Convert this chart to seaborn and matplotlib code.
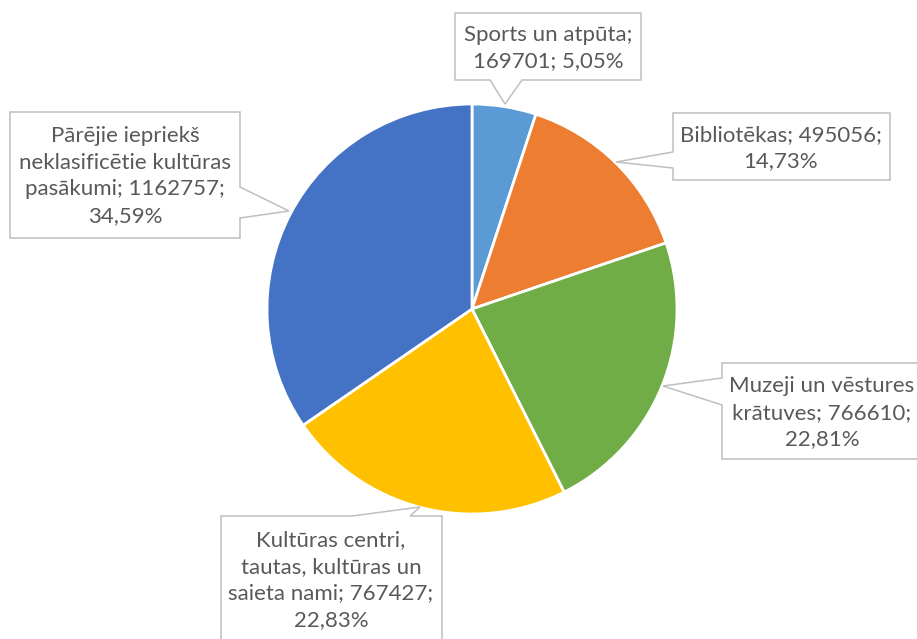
import textwrap
import matplotlib
matplotlib.use("Agg")
import matplotlib.pyplot as plt
import seaborn as sns
from matplotlib.patches import Polygon

# datos del gráfico
categories = [
    "Sports un atpūta",
    "Bibliotēkas",
    "Muzeji un vēstures krātuves",
    "Kultūras centri, tautas, kultūras un saieta nami",
    "Pārējie iepriekš neklasificētie kultūras pasākumi",
]
values = [169701, 495056, 766610, 767427, 1162757]
colors = ["#5B9BD5", "#ED7D31", "#70AD47", "#FFC000", "#4472C4"]

W, H = 917, 639

# callouts: (box x0, y0, x1, y1), tip, side, base range, wrap width  (pixel coords, y down)
callouts = [
    ((455, 13, 641, 80), (505, 104), "bottom", (490, 522), 17),
    ((673, 113, 890, 180), (616, 162), "left", (152, 168), 20),
    ((722, 363, 925, 459), (663, 386), "left", (378, 405), 18),
    ((221, 516, 442, 650), (420, 507), "top", (352, 410), 20),
    ((10, 112, 240, 238), (289, 211), "right", (187, 218), 23),
]
text_centers = [(548, 48), (781, 148), (822, 413), (331, 580), (125, 176)]

sns.set_theme(style="white")
plt.rcParams["font.family"] = ["Lato", "DejaVu Sans"]

fig = plt.figure(figsize=(W / 100, H / 100), dpi=100)
ax = fig.add_axes([0, 0, 1, 1])


def fy(y):
    return H - y


ax.pie(
    values,
    colors=colors,
    startangle=90,
    counterclock=False,
    center=(472, fy(309)),
    radius=205,
    wedgeprops=dict(edgecolor="white", linewidth=2),
    frame=True,
)
ax.set_xlim(0, W)
ax.set_ylim(0, H)
ax.axis("off")

total = sum(values)
for cat, val, (box, tip, side, base, wrap), (cx, cy) in zip(categories, values, callouts, text_centers):
    x0, y0, x1, y1 = box
    tx, ty = tip
    b0, b1 = base
    if side == "bottom":
        pts = [(x0, y0), (x1, y0), (x1, y1), (b1, y1), (tx, ty), (b0, y1), (x0, y1)]
    elif side == "top":
        pts = [(x0, y0), (b0, y0), (tx, ty), (b1, y0), (x1, y0), (x1, y1), (x0, y1)]
    elif side == "right":
        pts = [(x0, y0), (x1, y0), (x1, b0), (tx, ty), (x1, b1), (x1, y1), (x0, y1)]
    else:
        pts = [(x0, y0), (x1, y0), (x1, y1), (x0, y1), (x0, b1), (tx, ty), (x0, b0)]
    poly = Polygon([(px, fy(py)) for px, py in pts], closed=True,
                   facecolor="white", edgecolor="#BFBFBF", linewidth=1.1, zorder=3)
    ax.add_patch(poly)

    pct = f"{val / total * 100:.2f}".replace(".", ",")
    label = textwrap.fill(f"{cat}; {val}; {pct}%", width=wrap)
    ax.text(cx, fy(cy), label, ha="center", va="center", fontsize=16,
            color="#595959", linespacing=1.41, zorder=4)

fig.savefig("out.png", dpi=100)
